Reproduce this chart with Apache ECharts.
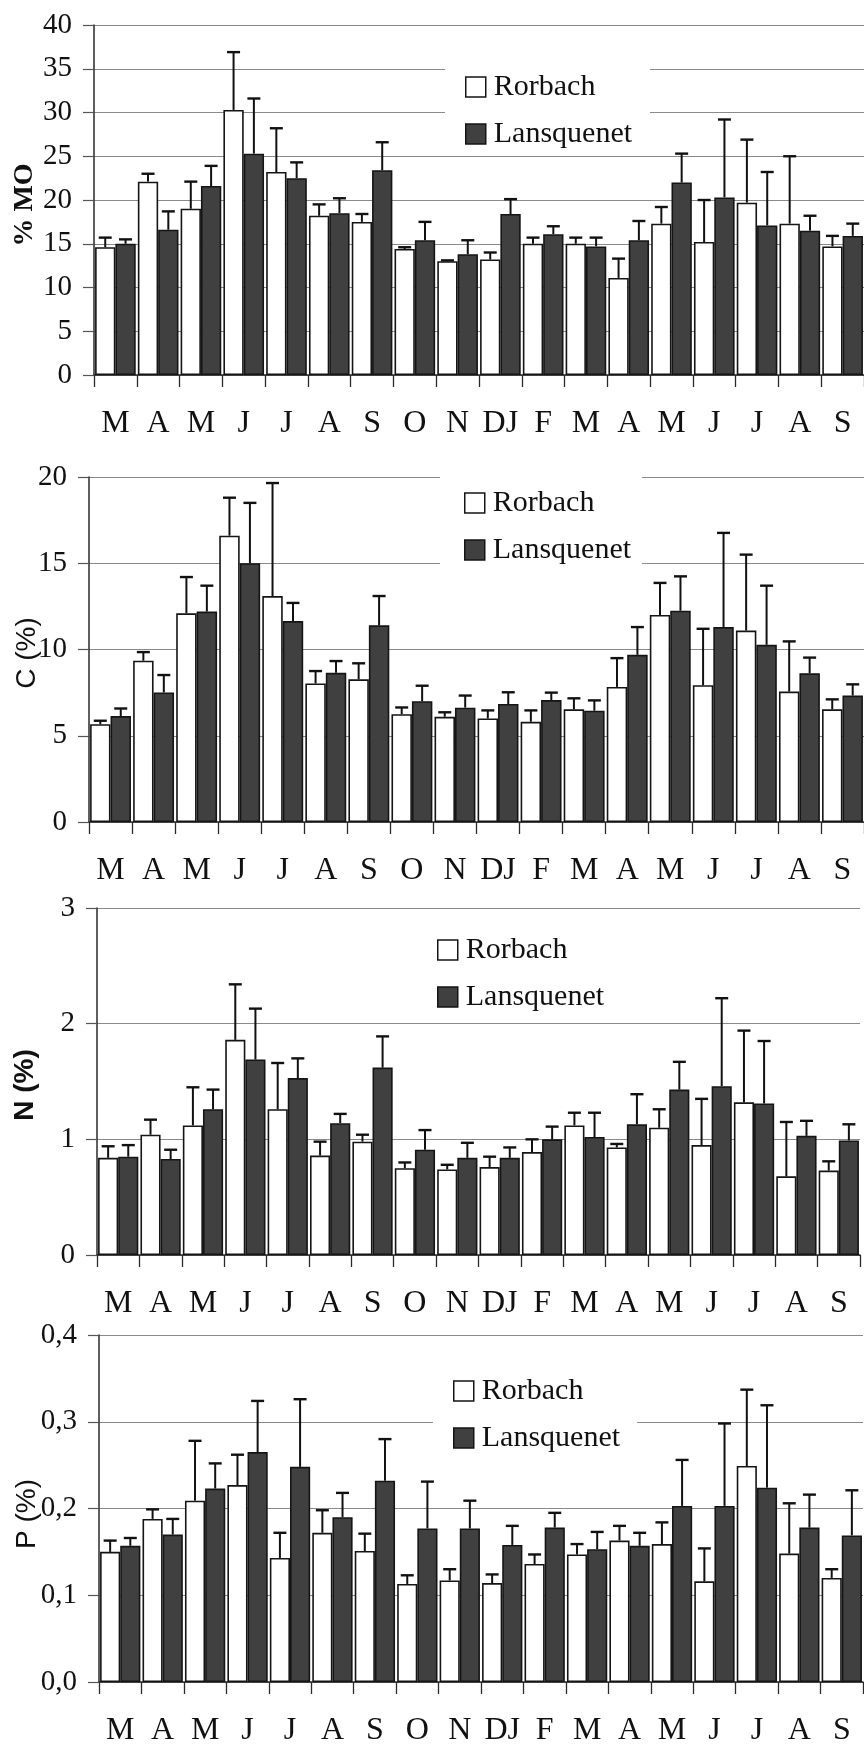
<!DOCTYPE html>
<html><head><meta charset="utf-8">
<script src="https://cdn.jsdelivr.net/npm/echarts@6/dist/echarts.min.js"></script>
<style>html,body{margin:0;padding:0;background:#fff}#c{width:864px;height:1748px}</style>
</head><body><div id="c"></div><script>
// categories (months, Mar -> Sep of following year; "DJ" = Dec/Jan)
const months = ['M','A','M','J','J','A','S','O','N','DJ','F','M','A','M','J','J','A','S'];
const seriesNames = ['Rorbach','Lansquenet'];

// % MO
const moRorbach     = [14.6, 22.1, 19.0, 30.3, 23.2, 18.2, 17.5, 14.4, 13.0, 13.2, 15.0, 15.0, 11.1, 17.3, 15.2, 19.7, 17.3, 14.7];
const moRorbachSD   = [1.1, 0.9, 3.1, 6.6, 5.0, 1.3, 0.9, 0.2, 0.1, 0.8, 0.7, 0.7, 2.2, 1.9, 4.8, 7.2, 7.7, 1.2];
const moLansquenet  = [15.0, 16.6, 21.6, 25.3, 22.5, 18.5, 23.4, 15.4, 13.8, 18.4, 16.1, 14.7, 15.4, 22.0, 20.3, 17.1, 16.5, 15.9];
const moLansquenetSD= [0.5, 2.1, 2.3, 6.3, 1.8, 1.7, 3.2, 2.1, 1.6, 1.7, 0.9, 1.0, 2.2, 3.3, 8.9, 6.1, 1.7, 1.4];

// C (%)
const cRorbach      = [5.67, 9.35, 12.1, 16.6, 13.1, 8.03, 8.27, 6.25, 6.1, 6.0, 5.81, 6.53, 7.83, 12.0, 7.93, 11.1, 7.56, 6.53];
const cRorbachSD    = [0.2, 0.5, 2.1, 2.2, 6.55, 0.72, 0.93, 0.39, 0.26, 0.47, 0.66, 0.64, 1.67, 1.86, 3.27, 4.4, 2.91, 0.58];
const cLansquenet   = [6.14, 7.51, 12.2, 15.0, 11.65, 8.65, 11.4, 7.0, 6.63, 6.84, 7.07, 6.45, 9.69, 12.25, 11.3, 10.27, 8.62, 7.33];
const cLansquenetSD = [0.44, 1.01, 1.5, 3.5, 1.05, 0.68, 1.7, 0.9, 0.7, 0.68, 0.43, 0.6, 1.61, 1.99, 5.46, 3.43, 0.91, 0.65];

// N (%)
const nRorbach      = [0.84, 1.04, 1.12, 1.86, 1.26, 0.86, 0.98, 0.75, 0.74, 0.76, 0.89, 1.12, 0.93, 1.10, 0.95, 1.32, 0.68, 0.73];
const nRorbachSD    = [0.10, 0.13, 0.33, 0.48, 0.40, 0.12, 0.06, 0.05, 0.04, 0.09, 0.11, 0.11, 0.03, 0.16, 0.40, 0.62, 0.47, 0.08];
const nLansquenet   = [0.85, 0.83, 1.26, 1.69, 1.53, 1.14, 1.62, 0.91, 0.84, 0.84, 1.00, 1.02, 1.13, 1.43, 1.46, 1.31, 1.03, 0.99];
const nLansquenetSD = [0.10, 0.08, 0.17, 0.44, 0.17, 0.08, 0.27, 0.17, 0.13, 0.09, 0.11, 0.21, 0.26, 0.24, 0.76, 0.54, 0.13, 0.14];

// P (%)
const pRorbach      = [0.150, 0.188, 0.209, 0.227, 0.143, 0.172, 0.151, 0.113, 0.117, 0.114, 0.136, 0.147, 0.163, 0.159, 0.116, 0.249, 0.148, 0.120];
const pRorbachSD    = [0.013, 0.011, 0.069, 0.035, 0.029, 0.026, 0.020, 0.010, 0.013, 0.010, 0.011, 0.012, 0.017, 0.025, 0.038, 0.088, 0.058, 0.010];
const pLansquenet   = [0.157, 0.170, 0.223, 0.265, 0.248, 0.190, 0.232, 0.177, 0.177, 0.158, 0.178, 0.153, 0.157, 0.203, 0.203, 0.224, 0.178, 0.169];
const pLansquenetSD = [0.009, 0.018, 0.029, 0.059, 0.078, 0.028, 0.048, 0.054, 0.032, 0.022, 0.017, 0.020, 0.015, 0.053, 0.095, 0.095, 0.038, 0.052];

// y-axis settings / titles
const yTitles = ['% MO', 'C (%)', 'N (%)', 'P (%)'];
const yMax = [40, 20, 3, 0.4];
const yInterval = [5, 5, 1, 0.1];

const SERIF = '"Liberation Serif", "DejaVu Serif", serif';
const SANS = '"Liberation Sans", Arial, sans-serif';
const INK = '#111';
const DARK = '#404040';
const GAP = 0.05;

const layout = [
  {grid:{left:94, top:25, width:774, height:350}, legend:{left:445, top:62, padding:[10,18,5,20]}, title:[25,205], font:'bold 28px ' + SERIF},
  {grid:{left:89, top:477, width:776, height:345}, legend:{left:440, top:474, padding:[14,11,8,24]}, title:[27,653], font:'28px ' + SANS},
  {grid:{left:97, top:908, width:763, height:347}, legend:{left:432, top:930, padding:[5,10,5,5]}, title:[25,1085], font:'bold 28px ' + SANS},
  {grid:{left:99, top:1335, width:764, height:347}, legend:{left:433, top:1366, padding:[10,17,8,20]}, title:[27,1514], font:'28px ' + SANS}
];

const data = [
  [moRorbach, moRorbachSD, moLansquenet, moLansquenetSD],
  [cRorbach, cRorbachSD, cLansquenet, cLansquenetSD],
  [nRorbach, nRorbachSD, nLansquenet, nLansquenetSD],
  [pRorbach, pRorbachSD, pLansquenet, pLansquenetSD]
];

function errRender(side){
  return function(params, api){
    const i = api.value(0), m = api.value(1), t = api.value(2);
    const band = api.size([1,0])[0];
    const bw = band*(1-GAP)/2;
    const p0 = api.coord([i,m]), p1 = api.coord([i,t]);
    const x = p0[0] + side*bw/2;
    const cap = 6.5;
    return {type:'group', children:[
      {type:'line', shape:{x1:x,y1:p0[1],x2:x,y2:p1[1]}, style:{stroke:INK, lineWidth:2}},
      {type:'line', shape:{x1:x-cap,y1:p1[1],x2:x+cap,y2:p1[1]}, style:{stroke:INK, lineWidth:2.4}}
    ]};
  };
}

const option = {animation:false, backgroundColor:'#fff', grid:[], xAxis:[], yAxis:[], series:[], legend:[], graphic:[]};

layout.forEach((L, k) => {
  option.grid.push(Object.assign({containLabel:false}, L.grid));
  option.xAxis.push({
    type:'category', gridIndex:k, data:months, boundaryGap:true,
    axisLine:{show:true, lineStyle:{color:'#2a2a2a', width:1.5}},
    axisTick:{show:true, length:12, lineStyle:{color:'#2a2a2a', width:1.3}},
    axisLabel:{interval:0, margin:33, fontSize:32, lineHeight:32, fontFamily:SERIF, color:INK},
    splitLine:{show:false}
  });
  option.yAxis.push({
    type:'value', gridIndex:k, min:0, max:yMax[k], interval:yInterval[k],
    axisLine:{show:true, lineStyle:{color:'#2a2a2a', width:1.5}},
    axisTick:{show:true, length:11, lineStyle:{color:'#555', width:1.2}},
    axisLabel:{margin:22, fontSize:29, fontFamily:SERIF, color:INK,
      formatter: k===3 ? (v => v.toFixed(1).replace('.', ',')) : (v => String(v))},
    splitLine:{show:true, lineStyle:{color:'#8a8a8a', width:1.2}}
  });
  const [r, rsd, l, lsd] = data[k];
  option.series.push({
    name:seriesNames[0], type:'bar', xAxisIndex:k, yAxisIndex:k, data:r,
    barGap:'0%', barCategoryGap:(GAP*100)+'%',
    itemStyle:{color:'#fff', borderColor:'#151515', borderWidth:1.6}, z:2
  });
  option.series.push({
    name:seriesNames[1], type:'bar', xAxisIndex:k, yAxisIndex:k, data:l,
    barGap:'0%', barCategoryGap:(GAP*100)+'%',
    itemStyle:{color:DARK, borderColor:'#151515', borderWidth:1.6}, z:2
  });
  option.series.push({
    name:'errR'+k, type:'custom', xAxisIndex:k, yAxisIndex:k, z:3,
    renderItem:errRender(-1), data:r.map((v,i)=>[i, v, v + rsd[i]])
  });
  option.series.push({
    name:'errL'+k, type:'custom', xAxisIndex:k, yAxisIndex:k, z:3,
    renderItem:errRender(1), data:l.map((v,i)=>[i, v, v + lsd[i]])
  });
  option.legend.push({
    orient:'vertical', left:L.legend.left, top:L.legend.top, padding:L.legend.padding,
    backgroundColor:'#fff', itemWidth:20, itemHeight:20, itemGap:17, selectedMode:false, icon:'rect', z:10,
    textStyle:{fontSize:30, lineHeight:30, fontFamily:SERIF, color:INK, padding:[0,0,0,3]},
    data:[
      {name:seriesNames[0], itemStyle:{color:'#fff', borderColor:'#151515', borderWidth:1.5}},
      {name:seriesNames[1], itemStyle:{color:DARK, borderColor:'#151515', borderWidth:1.5}}
    ]
  });
  option.graphic.push({
    type:'text', x:L.title[0], y:L.title[1], rotation:Math.PI/2, z:20,
    style:{text:yTitles[k], font:L.font, fill:INK, textAlign:'center', textVerticalAlign:'middle'}
  });
});

const chart = echarts.init(document.getElementById('c'), null, {renderer:'canvas'});
chart.setOption(option);
</script></body></html>
